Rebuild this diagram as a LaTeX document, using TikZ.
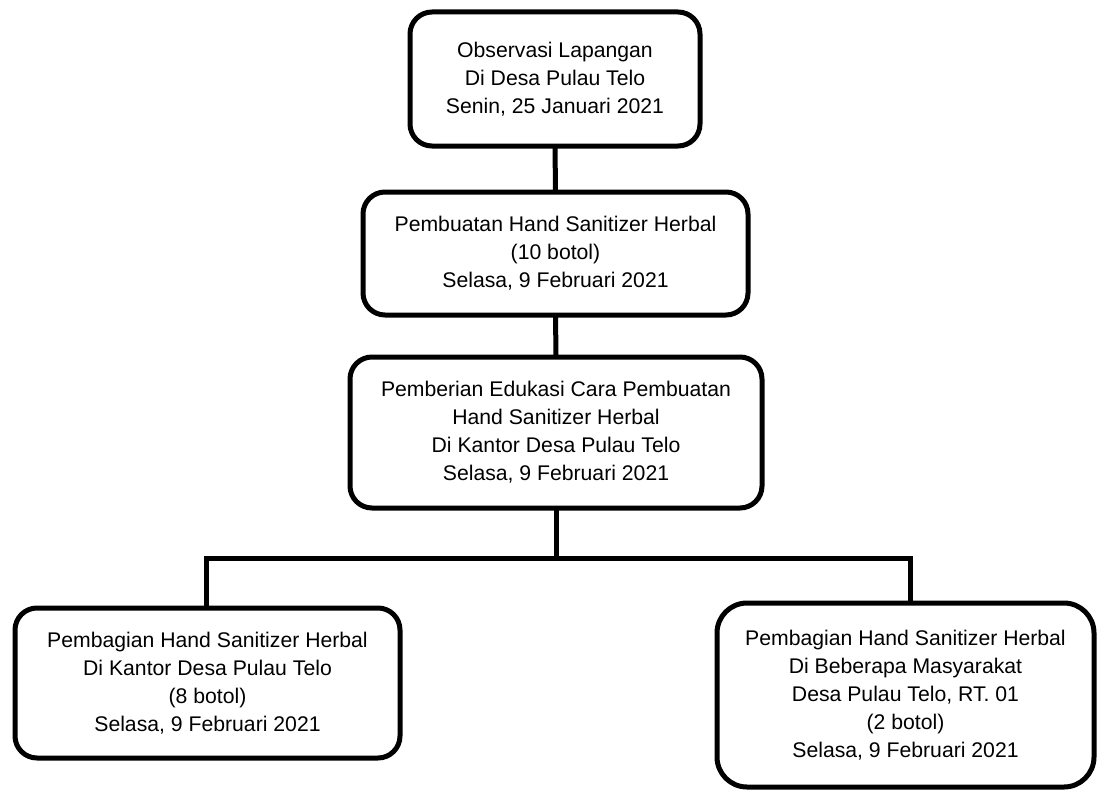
\documentclass[tikz,border=0pt]{standalone}
\usepackage{fontspec}
\setmainfont{Liberation Sans}
\begin{document}
\begin{tikzpicture}[x=1pt,y=-1pt,
  box/.style={draw=black, line width=5pt, rounded corners=22pt, outer sep=0pt,
    inner sep=0pt, align=center, font=\fontsize{21.2}{28}\selectfont},
  conn/.style={draw=black, line width=5pt, line join=miter}]
\useasboundingbox (0,0) rectangle (1099,789);
\node[box, minimum width=290pt, minimum height=134pt] (b1) at (555,79)
  {Observasi Lapangan\\Di Desa Pulau Telo\\Senin, 25 Januari 2021};
\node[box, minimum width=385pt, minimum height=123pt] (b2) at (555.5,253.5)
  {Pembuatan Hand Sanitizer Herbal\\(10 botol)\\Selasa, 9 Februari 2021};
\node[box, minimum width=412pt, minimum height=151pt] (b3) at (556,432.5)
  {Pemberian Edukasi Cara Pembuatan\\Hand Sanitizer Herbal\\Di Kantor Desa Pulau Telo\\Selasa, 9 Februari 2021};
\node[box, minimum width=385pt, minimum height=150pt] (b4) at (207.5,683)
  {Pembagian Hand Sanitizer Herbal\\Di Kantor Desa Pulau Telo\\(8 botol)\\Selasa, 9 Februari 2021};
\node[box, rounded corners=30pt, minimum width=377pt, minimum height=184pt] (b5) at (905.5,695)
  {Pembagian Hand Sanitizer Herbal\\Di Beberapa Masyarakat\\Desa Pulau Telo, RT. 01\\(2 botol)\\Selasa, 9 Februari 2021};
\coordinate (j) at (556,558);
\coordinate (l) at (206,558);
\coordinate (r) at (910,558);
\draw[conn] (b1.south) -- (b2.north);
\draw[conn] (b2.south) -- (b3.north);
\draw[conn] (b3.south) -- (j);
\draw[conn] (l |- b4.north) -- (l) -- (r) -- (r |- b5.north);
\end{tikzpicture}
\end{document}
